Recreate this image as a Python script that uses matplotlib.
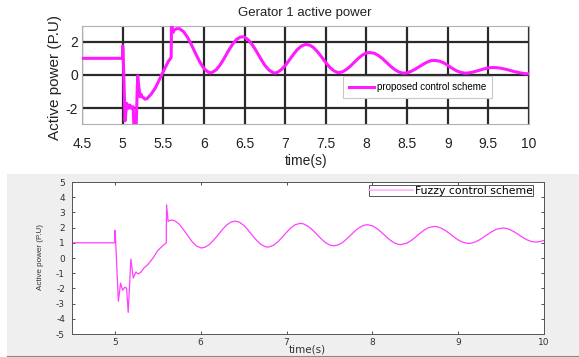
import matplotlib
matplotlib.use("Agg")
import matplotlib.pyplot as plt
from matplotlib import font_manager as fm
from matplotlib.patches import Rectangle
from matplotlib.lines import Line2D

plt.rcParams['axes.unicode_minus'] = False
names = {f.name for f in fm.fontManager.ttflist}
NARROW = 'Liberation Sans Narrow' if 'Liberation Sans Narrow' in names else 'Liberation Sans'
REG = 'Liberation Sans'

# ---------------- data ----------------
top_title = "Gerator 1 active power"
top_legend = "proposed control scheme"
bot_legend = "Fuzzy control scheme"
ylabel_text = "Active power (P.U)"
xlabel_text = "time(s)"

top_xticks = [4.5, 5, 5.5, 6, 6.5, 7, 7.5, 8, 8.5, 9, 9.5, 10]
top_xticklabels = ["4.5", "5", "5.5", "6", "6.5", "7", "7.5", "8", "8.5", "9", "9.5", "10"]
top_yticks = [-2, 0, 2]
bot_xticks = [5, 6, 7, 8, 9, 10]
bot_yticks = [-5, -4, -3, -2, -1, 0, 1, 2, 3, 4, 5]

top_t = [4.5, 4.998, 5.000, 5.005, 5.030, 5.050, 5.070, 5.090, 5.110, 5.130, 5.140, 5.150,
         5.165, 5.185, 5.213, 5.226, 5.240, 5.275, 5.30, 5.35, 5.40, 5.45, 5.48, 5.52, 5.56,
         5.597, 5.602, 5.61, 5.62, 5.635, 5.665,
         5.70, 5.75, 5.80, 5.85, 5.90, 5.95, 6.00, 6.05, 6.08,
         6.10, 6.15, 6.20, 6.25, 6.30, 6.35, 6.40, 6.45, 6.48,
         6.50, 6.55, 6.60, 6.65, 6.70, 6.75, 6.80, 6.85, 6.87,
         6.90, 6.95, 7.00, 7.05, 7.10, 7.15, 7.20, 7.25,
         7.30, 7.35, 7.40, 7.45, 7.50, 7.55, 7.60, 7.65,
         7.70, 7.75, 7.80, 7.85, 7.90, 7.95, 8.00, 8.04,
         8.10, 8.15, 8.20, 8.25, 8.30, 8.35, 8.40, 8.45,
         8.50, 8.55, 8.60, 8.65, 8.70, 8.75, 8.80,
         8.85, 8.90, 8.95, 9.00, 9.05, 9.10, 9.15, 9.21,
         9.25, 9.30, 9.35, 9.40, 9.45, 9.50, 9.56,
         9.60, 9.65, 9.70, 9.75, 9.80, 9.85, 9.90, 9.95, 10.0]
top_v = [1.0, 1.0, 1.75, 1.5, -2.75, -1.7, -2.0, -1.8, -2.0, -1.9, -3.3, -3.3,
         -3.3, -0.05, -1.3, -1.15, -1.3, -1.45, -1.42, -1.15, -0.8, -0.3, 0.0, 0.4, 0.8,
         1.05, 3.4, 2.9, 2.55, 2.7, 2.78,
         2.78, 2.60, 2.25, 1.78, 1.26, 0.78, 0.39, 0.18, 0.13,
         0.15, 0.31, 0.61, 1.00, 1.44, 1.83, 2.13, 2.28, 2.29,
         2.27, 2.09, 1.78, 1.39, 0.97, 0.58, 0.30, 0.14, 0.12,
         0.15, 0.31, 0.565, 0.89, 1.23, 1.53, 1.74, 1.83,
         1.80, 1.64, 1.38, 1.07, 0.74, 0.455, 0.25, 0.14,
         0.18, 0.32, 0.52, 0.76, 1.00, 1.20, 1.32, 1.35,
         1.30, 1.16, 0.97, 0.74, 0.51, 0.32, 0.18, 0.11,
         0.13, 0.22, 0.35, 0.50, 0.65, 0.78, 0.87,
         0.87, 0.83, 0.73, 0.58, 0.42, 0.27, 0.17, 0.11,
         0.12, 0.16, 0.23, 0.30, 0.37, 0.43, 0.45,
         0.44, 0.41, 0.36, 0.30, 0.23, 0.17, 0.12, 0.08, 0.07]

bot_t = [4.5, 4.998, 5.000, 5.005, 5.040, 5.066, 5.090, 5.117, 5.136, 5.155, 5.186, 5.214,
         5.245, 5.270, 5.30, 5.338, 5.38, 5.415, 5.45, 5.493, 5.53, 5.57, 5.598, 5.602,
         5.62, 5.64, 5.66,
         5.70, 5.75, 5.80, 5.85, 5.90, 5.95, 6.00, 6.01,
         6.05, 6.10, 6.15, 6.20, 6.25, 6.30, 6.35, 6.40,
         6.45, 6.50, 6.55, 6.60, 6.65, 6.70, 6.75, 6.78,
         6.80, 6.85, 6.90, 6.95, 7.00, 7.05, 7.10, 7.16,
         7.20, 7.25, 7.30, 7.35, 7.40, 7.45, 7.50, 7.55,
         7.60, 7.65, 7.70, 7.75, 7.80, 7.85, 7.90, 7.94,
         8.00, 8.05, 8.10, 8.15, 8.20, 8.25, 8.30, 8.33,
         8.40, 8.45, 8.50, 8.55, 8.60, 8.65, 8.72,
         8.75, 8.80, 8.85, 8.90, 8.95, 9.00, 9.05, 9.12,
         9.15, 9.20, 9.25, 9.30, 9.35, 9.40, 9.45, 9.52,
         9.55, 9.60, 9.65, 9.70, 9.75, 9.80, 9.85, 9.90, 9.95, 10.0]
bot_v = [1.0, 1.0, 1.82, 1.6, -2.85, -1.65, -2.13, -1.91, -2.0, -3.58, -0.07, -1.32,
         -0.92, -1.05, -0.95, -0.66, -0.45, -0.22, 0.05, 0.44, 0.66, 0.87, 0.99, 3.5,
         2.41, 2.47, 2.50,
         2.44, 2.22, 1.86, 1.46, 1.07, 0.79, 0.67, 0.66,
         0.71, 0.88, 1.17, 1.51, 1.86, 2.16, 2.36, 2.43,
         2.36, 2.15, 1.85, 1.50, 1.17, 0.90, 0.75, 0.72,
         0.73, 0.85, 1.07, 1.37, 1.69, 1.98, 2.19, 2.28,
         2.24, 2.09, 1.86, 1.57, 1.28, 1.03, 0.86, 0.80,
         0.86, 1.01, 1.25, 1.52, 1.79, 2.01, 2.15, 2.19,
         2.12, 1.95, 1.72, 1.46, 1.21, 1.01, 0.90, 0.88,
         0.97, 1.14, 1.36, 1.60, 1.82, 1.99, 2.08,
         2.06, 1.97, 1.81, 1.61, 1.39, 1.19, 1.04, 0.96,
         0.97, 1.06, 1.20, 1.39, 1.58, 1.76, 1.90, 1.97,
         1.96, 1.87, 1.73, 1.55, 1.36, 1.20, 1.09, 1.05, 1.08, 1.15]

# ---------------- figure ----------------
W, H = 579, 357
fig = plt.figure(figsize=(W / 100, H / 100), dpi=100)
fig.patch.set_facecolor('white')

def fx(px):
    return px / W

def fy(py):
    return 1 - py / H

# gray background panel for the lower chart
fig.add_artist(Rectangle((fx(7), fy(355)), 1 - fx(7), fy(174) - fy(355),
                         transform=fig.transFigure, facecolor='#efefef',
                         edgecolor='none', zorder=-2))
fig.add_artist(Line2D([fx(7), 1], [fy(355.5), fy(355.5)], transform=fig.transFigure,
                      color='#8a8a8a', lw=1.0, zorder=-1))

# ---------------- top axes ----------------
ax1 = fig.add_axes([fx(82), fy(124), fx(529) - fx(82), fy(26) - fy(124)])
ax1.plot(top_t, top_v, color='#ff1aff', lw=2.2, label=top_legend, zorder=3)
ax1.set_xlim(4.5, 10)
ax1.set_ylim(-2.94, 2.94)
ax1.set_xticks(top_xticks)
ax1.set_xticklabels(top_xticklabels)
ax1.set_yticks(top_yticks)
ax1.grid(True, color='#2a2a2a', lw=1.6)
ax1.set_axisbelow(True)
ax1.tick_params(length=0, labelsize=10)
ax1.tick_params(axis='x', pad=9)
ax1.tick_params(axis='y', pad=3)
for lab in ax1.get_xticklabels() + ax1.get_yticklabels():
    lab.set_family(NARROW)
    lab.set_color('#222222')
for s in ax1.spines.values():
    s.set_color('#b0b0b0')
    s.set_linewidth(0.8)
leg1 = ax1.legend(loc='lower left', bbox_to_anchor=(0.584, 0.265), borderaxespad=0,
                  prop={'family': NARROW, 'size': 7.0}, frameon=True, fancybox=False,
                  handlelength=2.6, handletextpad=0.3, borderpad=0.6)
leg1.get_frame().set_edgecolor('#c8c8c8')
leg1.get_frame().set_linewidth(0.8)
leg1.get_frame().set_alpha(1)

fig.text(fx(305), fy(13), top_title, ha='center', va='center', fontsize=9.5,
         family=NARROW, color='#222222')
fig.text(fx(55), fy(77), ylabel_text, ha='center', va='center', rotation=90,
         fontsize=11, family=REG, color='#222222')
fig.text(fx(306), fy(161), xlabel_text, ha='center', va='center', fontsize=10,
         family=NARROW, color='#222222')

# ---------------- bottom axes ----------------
ax2 = fig.add_axes([fx(72), fy(334), fx(544) - fx(72), fy(182) - fy(334)])
ax2.set_facecolor('white')
ax2.plot(bot_t, bot_v, color='#ff40ff', lw=0.9, label=bot_legend)
ax2.set_xlim(4.5, 10)
ax2.set_ylim(-5, 5)
ax2.set_xticks(bot_xticks)
ax2.set_yticks(bot_yticks)
ax2.tick_params(direction='in', length=2.5, width=0.6, color='#333333',
                top=True, right=True, labelsize=6.5, labelcolor='#333333')
ax2.tick_params(axis='y', pad=5)
ax2.tick_params(axis='x', pad=3)
for s in ax2.spines.values():
    s.set_color('#555555')
    s.set_linewidth(0.7)
leg2 = ax2.legend(loc='upper right', bbox_to_anchor=(0.977, 0.98), borderaxespad=0,
                  prop={'family': 'DejaVu Sans', 'size': 7.8}, frameon=True, fancybox=False,
                  handlelength=4.0, handletextpad=0.2, borderpad=0.05)
leg2.get_frame().set_edgecolor('#555555')
leg2.get_frame().set_linewidth(0.7)
leg2.get_frame().set_alpha(1)
for line in leg2.get_lines():
    line.set_color('#ffb0ff')
    line.set_linewidth(1.2)

fig.text(fx(40), fy(257), ylabel_text, ha='center', va='center', rotation=90,
         fontsize=5.8, family=NARROW, color='#333333')
fig.text(fx(307), fy(350), xlabel_text, ha='center', va='center', fontsize=7.5,
         family='DejaVu Sans', color='#333333')

fig.savefig('out.png', dpi=100, facecolor='white')
